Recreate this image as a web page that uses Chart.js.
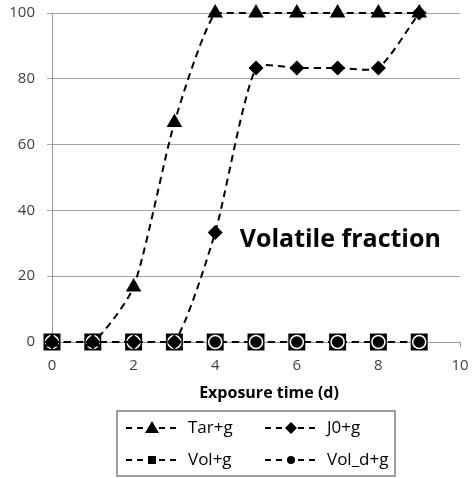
<!DOCTYPE html>
<html>
<head>
<meta charset="utf-8">
<script src="https://cdn.jsdelivr.net/npm/chart.js@4/dist/chart.umd.min.js"></script>
<style>
  html, body { margin: 0; padding: 0; background: #fff; }
  #wrap { width: 472px; height: 478px; position: relative; }
</style>
</head>
<body>
<div id="wrap"><canvas id="myChart" width="472" height="478"></canvas></div>
<script>
// exposure time (days)
var days = [0, 1, 2, 3, 4, 5, 6, 7, 8, 9];
var tarG  = [0, 0, 16.7, 66.7, 100, 100, 100, 100, 100, 100];
var j0G   = [0, 0, 0, 0, 33.3, 83.3, 83.3, 83.3, 83.3, 100];
var volG  = [0, 0, 0, 0, 0, 0, 0, 0, 0, 0];
var volDG = [0, 0, 0, 0, 0, 0, 0, 0, 0, 0];
var seriesNames = ['Tar+g', 'J0+g', 'Vol+g', 'Vol_d+g'];
var xTicks = [0, 2, 4, 6, 8, 10];
var yTicks = [0, 20, 40, 60, 80, 100];
var xTitle = 'Exposure time (d)';
var note = 'Volatile fraction';

var FONT = '"Open Sans", "DejaVu Sans", sans-serif';

function pts(vals) {
  return vals.map(function (v, i) { return { x: days[i], y: v }; });
}

function lineSet(label, vals, style, radius, order, borderCol, borderW) {
  return {
    label: label,
    data: pts(vals),
    borderColor: '#000',
    borderWidth: 2,
    borderDash: [7, 5],
    backgroundColor: '#000',
    pointStyle: style,
    pointRadius: radius,
    pointHoverRadius: radius,
    pointBackgroundColor: '#000',
    pointBorderColor: borderCol || '#000',
    pointBorderWidth: borderW || 0,
    tension: 0.2,
    fill: false,
    clip: false,
    order: order
  };
}

// axis title, text inside the plot + legend box under the axis
var extras = {
  id: 'extras',
  afterDraw: function (chart) {
    var ctx = chart.ctx;
    var xs = chart.scales.x, ys = chart.scales.y;
    ctx.save();
    ctx.fillStyle = '#000';
    ctx.textBaseline = 'middle';
    ctx.font = 'bold 16px ' + FONT;
    ctx.textAlign = 'center';
    ctx.fillText(xTitle, 269, 393);
    ctx.textAlign = 'left';
    ctx.font = 'bold 25px ' + FONT;
    ctx.fillText(note, xs.getPixelForValue(4.6), ys.getPixelForValue(31));

    // legend
    var bx = 117, by = 411, bw = 278, bh = 65;
    ctx.strokeStyle = '#808080';
    ctx.lineWidth = 1.5;
    ctx.strokeRect(bx, by, bw, bh);

    var items = [
      { name: seriesNames[0], shape: 'tri',  x: 126, y: 428 },
      { name: seriesNames[1], shape: 'dia',  x: 265, y: 428 },
      { name: seriesNames[2], shape: 'sq',   x: 126, y: 460 },
      { name: seriesNames[3], shape: 'dot',  x: 265, y: 460 }
    ];
    items.forEach(function (it) {
      ctx.strokeStyle = '#000';
      ctx.lineWidth = 2;
      ctx.setLineDash([6, 5]);
      ctx.beginPath();
      ctx.moveTo(it.x, it.y);
      ctx.lineTo(it.x + 52, it.y);
      ctx.stroke();
      ctx.setLineDash([]);
      var cx = it.x + 26, cy = it.y;
      ctx.fillStyle = '#000';
      ctx.beginPath();
      if (it.shape === 'tri') {
        ctx.moveTo(cx, cy - 7); ctx.lineTo(cx + 7, cy + 5); ctx.lineTo(cx - 7, cy + 5);
      } else if (it.shape === 'dia') {
        ctx.moveTo(cx, cy - 6); ctx.lineTo(cx + 6, cy); ctx.lineTo(cx, cy + 6); ctx.lineTo(cx - 6, cy);
      } else if (it.shape === 'sq') {
        ctx.rect(cx - 4, cy - 4, 8, 8);
      } else {
        ctx.arc(cx, cy, 4, 0, Math.PI * 2);
      }
      ctx.closePath();
      ctx.fill();
      ctx.font = '17px ' + FONT;
      ctx.fillStyle = '#000';
      ctx.textBaseline = 'middle';
      ctx.fillText(it.name, it.x + 62, it.y);
    });
    ctx.restore();
  }
};

var chart = new Chart(document.getElementById('myChart'), {
  type: 'line',
  data: {
    datasets: [
      lineSet(seriesNames[0], tarG, 'triangle', 9, 0),
      lineSet(seriesNames[1], j0G, 'rectRot', 7.5, 1),
      lineSet(seriesNames[3], volDG, 'circle', 6.5, 2, '#fff', 1.5),
      lineSet(seriesNames[2], volG, 'rect', 12, 3)
    ]
  },
  options: {
    responsive: false,
    animation: false,
    events: [],
    layout: { padding: { left: 0, right: 10, top: 13, bottom: 96 } },
    plugins: { legend: { display: false }, tooltip: { enabled: false } },
    scales: {
      x: {
        type: 'linear',
        min: 0, max: 10,
        afterBuildTicks: function (s) { s.ticks = xTicks.map(function (v) { return { value: v }; }); },
        grid: { drawOnChartArea: false, drawTicks: true, tickLength: 5, color: '#999', lineWidth: 1 },
        border: { color: '#999', width: 1 },
        ticks: { color: '#404040', font: { family: FONT, size: 15 }, padding: 10, maxRotation: 0 },
        afterFit: function (s) { s.height = 40; s.paddingLeft = 0; s.paddingRight = 0; }
      },
      y: {
        min: 0, max: 100,
        afterBuildTicks: function (s) { s.ticks = yTicks.map(function (v) { return { value: v }; }); },
        grid: { color: '#a6a6a6', lineWidth: 1, drawTicks: true, tickLength: 5 },
        border: { color: '#999', width: 1 },
        ticks: { color: '#404040', font: { family: FONT, size: 15 }, padding: 12 },
        afterFit: function (s) { s.width = 52; s.paddingTop = 0; s.paddingBottom = 0; }
      }
    }
  },
  plugins: [extras]
});
</script>
</body>
</html>
